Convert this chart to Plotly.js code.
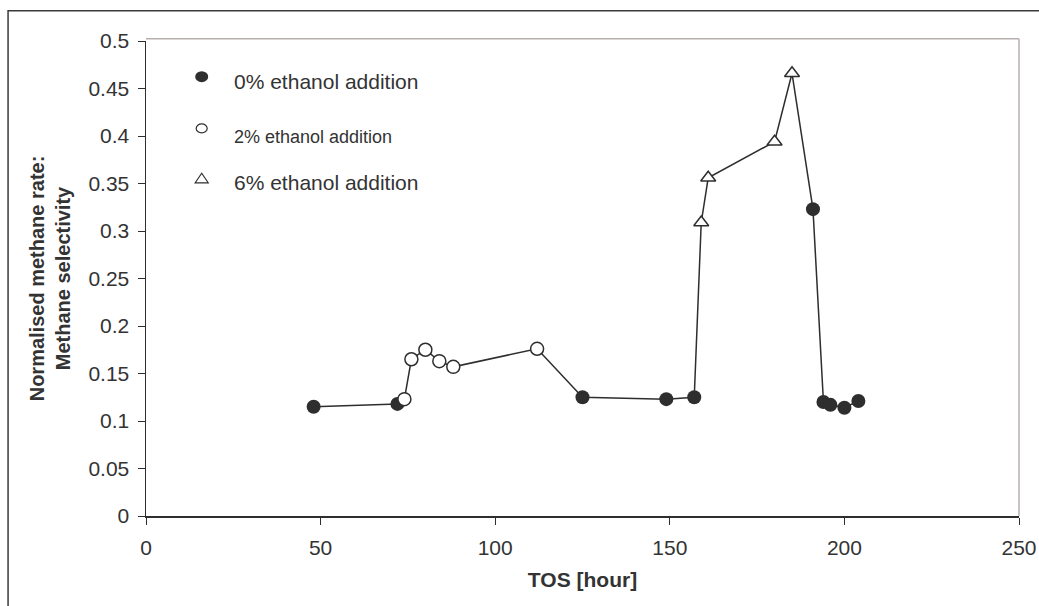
<!DOCTYPE html>
<html>
<head>
<meta charset="utf-8">
<script src="https://cdn.plot.ly/plotly-3.0.1.min.js"></script>
<style>
  html, body { margin: 0; padding: 0; background: #ffffff; }
  #chart { width: 1039px; height: 606px; }
</style>
</head>
<body>
<div id="chart"></div>
<script>
// Time on stream [hour] and normalised methane selectivity for each ethanol level
const tos0 = [48, 72, 125, 149, 157, 191, 194, 196, 200, 204];
const sel0 = [0.115, 0.118, 0.125, 0.123, 0.125, 0.323, 0.120, 0.117, 0.114, 0.121];

const tos2 = [74, 76, 80, 84, 88, 112];
const sel2 = [0.123, 0.165, 0.175, 0.163, 0.157, 0.176];

const tos6 = [159, 161, 180, 185];
const sel6 = [0.309, 0.356, 0.394, 0.466];

const legendLabels = ['0% ethanol addition', '2% ethanol addition', '6% ethanol addition'];
const xTicks = [0, 50, 100, 150, 200, 250];
const yTicks = [0, 0.05, 0.1, 0.15, 0.2, 0.25, 0.3, 0.35, 0.4, 0.45, 0.5];

// One continuous run line through every measurement, in time order
const run = tos0.map((t, i) => [t, sel0[i]])
  .concat(tos2.map((t, i) => [t, sel2[i]]))
  .concat(tos6.map((t, i) => [t, sel6[i]]))
  .sort((a, b) => a[0] - b[0]);

const ink = '#2e2e2e';
const font = 'Liberation Sans, Arial, sans-serif';

const traces = [
  {
    x: run.map(p => p[0]), y: run.map(p => p[1]),
    mode: 'lines', line: { color: ink, width: 1.5 },
    showlegend: false, hoverinfo: 'skip'
  },
  {
    x: tos0, y: sel0, mode: 'markers', name: legendLabels[0],
    marker: { symbol: 'circle', size: 14, color: ink, line: { width: 0 } }
  },
  {
    x: tos2, y: sel2, mode: 'markers', name: legendLabels[1],
    marker: { symbol: 'circle', size: 13, color: '#ffffff', line: { color: ink, width: 1.5 } }
  },
  {
    x: tos6, y: sel6, mode: 'markers', name: legendLabels[2],
    marker: { symbol: 'triangle-up', size: 13, color: '#ffffff', line: { color: ink, width: 1.5 } }
  }
];

// Hand-placed key inside the plot area
const keyX = 0.0638, keyTextX = 0.0985;
const keySymbolY = [0.925, 0.816, 0.711];
const keyTextY = [0.9137, 0.798, 0.703];
const keyFont = [21, 18, 21];

const shapes = [
  // outer frame
  { type: 'rect', xref: 'paper', yref: 'paper', x0: -0.158, x1: 1.05, y0: -0.25, y1: 1.0635,
    line: { color: '#3a3a3a', width: 1.5 } },
  // plot-area border (top and right)
  { type: 'line', xref: 'paper', yref: 'paper', x0: 0, x1: 1, y0: 1.005, y1: 1.005,
    line: { color: '#b9afaf', width: 1.5 } },
  { type: 'line', xref: 'paper', yref: 'paper', x0: 1, x1: 1, y0: 0, y1: 1.005,
    line: { color: '#b9afaf', width: 1.5 } },
  // key symbols
  { type: 'circle', xref: 'paper', yref: 'paper', xsizemode: 'pixel', ysizemode: 'pixel',
    xanchor: keyX, yanchor: keySymbolY[0], x0: -6.5, x1: 6.5, y0: -5.5, y1: 5.5,
    fillcolor: ink, line: { width: 0 } },
  { type: 'circle', xref: 'paper', yref: 'paper', xsizemode: 'pixel', ysizemode: 'pixel',
    xanchor: keyX, yanchor: keySymbolY[1], x0: -5.5, x1: 5.5, y0: -4.5, y1: 4.5,
    fillcolor: '#ffffff', line: { color: ink, width: 1.2 } },
  { type: 'path', xref: 'paper', yref: 'paper', xsizemode: 'pixel', ysizemode: 'pixel',
    xanchor: keyX, yanchor: keySymbolY[2], path: 'M-6.5,-4.5 L6.5,-4.5 L0,5 Z',
    fillcolor: '#ffffff', line: { color: ink, width: 1.2 } }
];

const annotations = legendLabels.map((txt, i) => ({
  xref: 'paper', yref: 'paper', x: keyTextX, y: keyTextY[i],
  xanchor: 'left', yanchor: 'middle', showarrow: false, text: txt,
  font: { family: font, size: keyFont[i], color: '#333333' }
}));

const layout = {
  width: 1039, height: 606,
  margin: { l: 146, r: 20, t: 41, b: 90, pad: 0 },
  paper_bgcolor: '#ffffff', plot_bgcolor: '#ffffff',
  showlegend: false,
  font: { family: font, color: '#333333', size: 21 },
  xaxis: {
    range: [0, 250], tickvals: xTicks, ticktext: xTicks.map(String),
    showgrid: false, zeroline: false,
    showline: true, linecolor: ink, linewidth: 1.5,
    ticks: 'outside', ticklen: 7, tickcolor: ink, tickwidth: 1,
    ticklabelstandoff: 5,
    tickfont: { family: font, size: 21, color: '#333333' },
    title: { text: 'TOS [hour]', standoff: 14,
             font: { family: font, size: 21, color: '#333333', weight: 'bold' } }
  },
  yaxis: {
    range: [0, 0.5], tickvals: yTicks, ticktext: yTicks.map(String),
    showgrid: false, zeroline: false,
    showline: true, linecolor: ink, linewidth: 1.5,
    ticks: 'outside', ticklen: 7, tickcolor: ink, tickwidth: 1,
    ticklabelstandoff: 4,
    tickfont: { family: font, size: 21, color: '#333333' },
    title: { text: 'Normalised methane rate:<br>Methane selectivity', standoff: 12,
             font: { family: font, size: 20, color: '#333333', weight: 'bold' } }
  },
  shapes: shapes,
  annotations: annotations
};

Plotly.newPlot('chart', traces, layout, { staticPlot: true, displayModeBar: false });
</script>
</body>
</html>
